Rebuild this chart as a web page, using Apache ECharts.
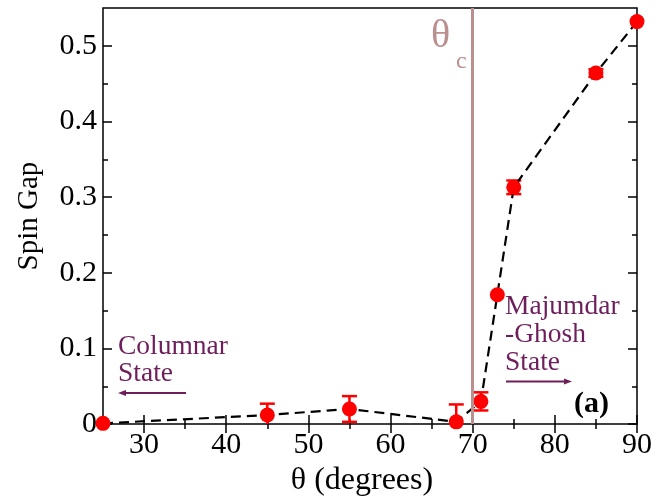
<!DOCTYPE html>
<html>
<head>
<meta charset="utf-8">
<script src="https://cdn.jsdelivr.net/npm/echarts@6/dist/echarts.min.js"></script>
<style>
  html, body { margin: 0; padding: 0; background: #fff; }
  #chart { width: 667px; height: 502px; }
</style>
</head>
<body>
<div id="chart"></div>
<script>
// data
const theta = [25, 45, 55, 68, 71, 73, 75, 85, 90]
const spinGap = [0.001, 0.012, 0.020, 0.003, 0.030, 0.171, 0.313, 0.464, 0.532]
const gapErr = [0, 0.015, 0.017, 0.023, 0.012, 0, 0.009, 0.005, 0]
const thetaC = 70

// ticks
const xTicks = [30, 40, 50, 60, 70, 80, 90]
const xMinor = [35, 45, 55, 65, 75, 85]
const yTicks = [0, 0.1, 0.2, 0.3, 0.4, 0.5]
const yMinor = [0.05, 0.15, 0.25, 0.35, 0.45]

const serif = 'Liberation Serif'
const purple = '#6e1f5b'
const red = '#ff0000'

const chart = echarts.init(document.getElementById('chart'))

function xAxisDef(pos, values, len, withLabels) {
  return {
    type: 'value',
    position: pos,
    min: 25,
    max: 90,
    axisLine: { show: false },
    splitLine: { show: false },
    axisTick: {
      inside: true,
      length: len,
      customValues: values,
      lineStyle: { color: '#000', width: 1.5 }
    },
    axisLabel: withLabels ? {
      customValues: values,
      color: '#000',
      fontFamily: serif,
      fontSize: 30,
      margin: 6
    } : { show: false },
    name: withLabels ? 'θ (degrees)' : '',
    nameLocation: 'middle',
    nameGap: 36,
    nameTextStyle: { color: '#000', fontFamily: serif, fontSize: 32, padding: [0, 16, 0, 0] }
  }
}

function yAxisDef(pos, values, len, withLabels) {
  return {
    type: 'value',
    position: pos,
    min: 0,
    max: 0.55,
    axisLine: { show: false },
    splitLine: { show: false },
    axisTick: {
      inside: true,
      length: len,
      customValues: values,
      lineStyle: { color: '#000', width: 1.5 }
    },
    axisLabel: withLabels ? {
      customValues: values,
      color: '#000',
      fontFamily: serif,
      fontSize: 30,
      margin: 6,
      formatter: v => (v === 0 ? '0' : v.toFixed(1))
    } : { show: false },
    name: withLabels ? 'Spin Gap' : '',
    nameLocation: 'middle',
    nameGap: 59,
    nameTextStyle: { color: '#000', fontFamily: serif, fontSize: 29 }
  }
}

const errData = []
for (let i = 0; i < theta.length; i++) {
  if (gapErr[i] > 0) errData.push([theta[i], spinGap[i], gapErr[i]])
}

chart.setOption({
  animation: false,
  backgroundColor: '#fff',
  grid: {
    left: 103,
    right: 30,
    top: 8,
    bottom: 70,
    show: true,
    borderColor: '#000',
    borderWidth: 1.5,
    backgroundColor: 'transparent'
  },
  xAxis: [
    xAxisDef('bottom', xTicks, 9, true),
    xAxisDef('bottom', xMinor, 5, false),
    xAxisDef('top', xTicks, 9, false),
    xAxisDef('top', xMinor, 5, false)
  ],
  yAxis: [
    yAxisDef('left', yTicks, 9, true),
    yAxisDef('left', yMinor, 5, false),
    yAxisDef('right', yTicks, 9, false),
    yAxisDef('right', yMinor, 5, false)
  ],
  series: [
    {
      type: 'line',
      data: [],
      z: 1,
      markLine: {
        silent: true,
        symbol: 'none',
        label: { show: false },
        lineStyle: { color: '#bc8f8f', width: 3, type: 'solid' },
        data: [{ xAxis: thetaC }]
      }
    },
    {
      type: 'custom',
      clip: true,
      z: 3,
      data: errData,
      renderItem: (params, api) => {
        const x = api.value(0)
        const y = api.value(1)
        const e = api.value(2)
        const top = api.coord([x, y + e])
        const bot = api.coord([x, y - e])
        const hw = 7.5
        const style = { stroke: red, lineWidth: 2.5 }
        return {
          type: 'group',
          children: [
            { type: 'line', shape: { x1: top[0], y1: top[1], x2: bot[0], y2: bot[1] }, style },
            { type: 'line', shape: { x1: top[0] - hw, y1: top[1], x2: top[0] + hw, y2: top[1] }, style },
            { type: 'line', shape: { x1: bot[0] - hw, y1: bot[1], x2: bot[0] + hw, y2: bot[1] }, style }
          ]
        }
      }
    },
    {
      type: 'line',
      z: 4,
      clip: false,
      data: theta.map((t, i) => [t, spinGap[i]]),
      symbol: 'circle',
      symbolSize: 15,
      itemStyle: { color: red },
      lineStyle: { color: '#000', width: 2.2, type: [10, 6] }
    }
  ],
  graphic: [
    {
      type: 'text', left: 431, top: 16, z: 10,
      style: { text: 'θ', font: '40px "Liberation Serif"', fill: '#bc8f8f' }
    },
    {
      type: 'text', left: 456, top: 50, z: 10,
      style: { text: 'c', font: '24px "Liberation Serif"', fill: '#bc8f8f' }
    },
    {
      type: 'text', left: 118, top: 333, z: 10,
      style: { text: 'Columnar\nState', font: '27.5px "Liberation Serif"', lineHeight: 27, fill: purple }
    },
    {
      type: 'line', z: 10,
      shape: { x1: 186, y1: 393, x2: 124, y2: 393 },
      style: { stroke: purple, lineWidth: 2 }
    },
    {
      type: 'polygon', z: 10,
      shape: { points: [[118, 393], [126, 390], [126, 396]] },
      style: { fill: purple }
    },
    {
      type: 'text', left: 505, top: 293, z: 10,
      style: { text: 'Majumdar\n-Ghosh\nState', font: '27.5px "Liberation Serif"', lineHeight: 28, fill: purple }
    },
    {
      type: 'line', z: 10,
      shape: { x1: 506, y1: 381.5, x2: 566, y2: 381.5 },
      style: { stroke: purple, lineWidth: 2 }
    },
    {
      type: 'polygon', z: 10,
      shape: { points: [[572, 381.5], [564, 378.5], [564, 384.5]] },
      style: { fill: purple }
    },
    {
      type: 'text', left: 574, top: 389, z: 10,
      style: { text: '(a)', font: 'bold 30px "Liberation Serif"', fill: '#000' }
    }
  ]
})
</script>
</body>
</html>
